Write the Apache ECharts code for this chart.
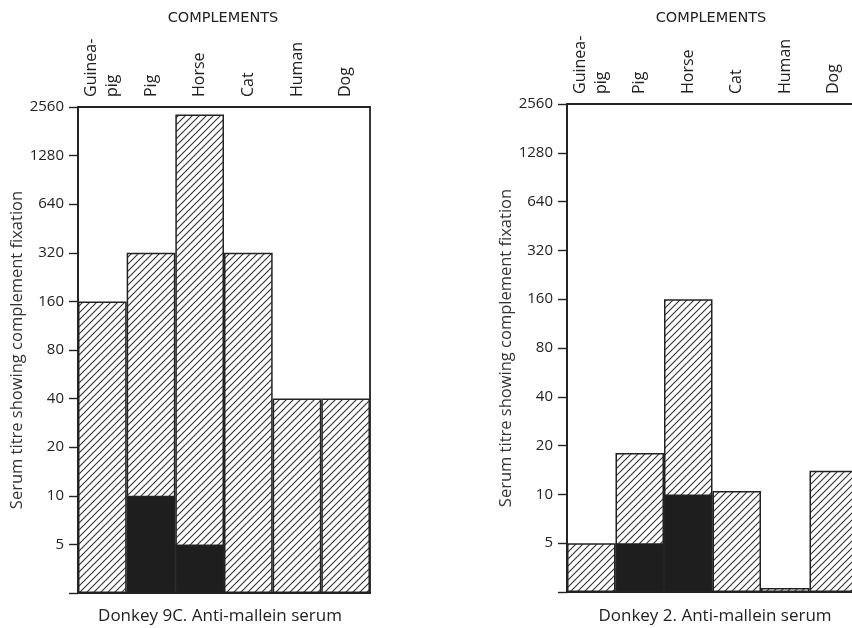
<!DOCTYPE html>
<html>
<head>
<meta charset="utf-8">
<script src="https://cdn.jsdelivr.net/npm/echarts@6/dist/echarts.min.js"></script>
<style>
  html, body { margin: 0; padding: 0; background: #fff; }
  #chart { width: 852px; height: 628px; }
</style>
</head>
<body>
<div id="chart"></div>
<script>
// complement source animals (top axis)
const categories = ['Guinea-\npig', 'Pig', 'Horse', 'Cat', 'Human', 'Dog'];
// titre ticks, each a doubling; axis floor sits one doubling below 5
const titreTicks = [5, 10, 20, 40, 80, 160, 320, 640, 1280, 2560];
const axisFloor = 2.5;

// Donkey 9C: hatched total titre, solid part drawn over the bottom
const donkey9cTotal = [160, 320, 2300, 320, 40, 40];
const donkey9cSolid = [null, 10, 5, null, null, null];

// Donkey 2
const donkey2Total = [5, 18, 160, 10.5, 2.65, 14];
const donkey2Solid = [null, 5, 10, null, null, null];

const ink = '#222';
const font = '"Open Sans", Lato, sans-serif';

// diagonal hatch tile
function makeHatch() {
  const size = 7;
  const c = document.createElement('canvas');
  c.width = size;
  c.height = size;
  const ctx = c.getContext('2d');
  ctx.fillStyle = '#fff';
  ctx.fillRect(0, 0, size, size);
  ctx.strokeStyle = '#333';
  ctx.lineWidth = 1.1;
  ctx.beginPath();
  ctx.moveTo(-1, size + 1); ctx.lineTo(size + 1, -1);
  ctx.moveTo(-1, 1); ctx.lineTo(1, -1);
  ctx.moveTo(size - 1, size + 1); ctx.lineTo(size + 1, size - 1);
  ctx.stroke();
  return c;
}
const hatch = { image: makeHatch(), repeat: 'repeat' };

// doublings above the floor, so the value axis works as a log2 scale
const toLog = (v) => (v == null ? '-' : Math.log2(v / axisFloor));

const grids = [
  { left: 78, top: 107, width: 292, height: 486 },
  { left: 567, top: 104, width: 291, height: 488 },
];

function xAxisFor(i) {
  return {
    type: 'category',
    gridIndex: i,
    position: 'top',
    data: categories,
    boundaryGap: true,
    axisLine: { lineStyle: { color: ink, width: 1.8 } },
    axisTick: { inside: true, length: 7, interval: 0, lineStyle: { color: ink, width: 1.4 } },
    axisLabel: {
      rotate: 90, interval: 0, margin: 10,
      color: ink, fontFamily: font, fontSize: 16, lineHeight: 21,
    },
  };
}

function yAxisFor(i) {
  return {
    type: 'value',
    gridIndex: i,
    min: 0,
    max: titreTicks.length,
    interval: 1,
    name: 'Serum titre showing complement fixation',
    nameLocation: 'middle',
    nameGap: 49,
    nameTextStyle: { color: '#333', fontFamily: font, fontSize: 16.5 },
    axisLine: { show: true, lineStyle: { color: ink, width: 1.8 } },
    axisTick: { show: true, length: 9, lineStyle: { color: ink, width: 1.4 } },
    splitLine: { show: false },
    axisLabel: {
      color: ink, fontFamily: font, fontSize: 15, margin: 14,
      formatter: (v) => (v >= 1 ? String(titreTicks[v - 1]) : ''),
    },
  };
}

function seriesFor(i, total, solid) {
  return [
    {
      type: 'bar',
      xAxisIndex: i,
      yAxisIndex: i,
      barCategoryGap: '0%',
      barGap: '-100%',
      data: total.map(toLog),
      itemStyle: { color: hatch, borderColor: ink, borderWidth: 1.5 },
      silent: true,
    },
    {
      type: 'bar',
      xAxisIndex: i,
      yAxisIndex: i,
      barCategoryGap: '0%',
      barGap: '-100%',
      data: solid.map(toLog),
      itemStyle: { color: '#1e1e1e', borderColor: ink, borderWidth: 1.5 },
      silent: true,
    },
  ];
}

const titleStyle = { color: ink, fontFamily: '"DejaVu Sans", sans-serif', fontSize: 14.5, fontWeight: 'normal' };
const captionStyle = { color: ink, fontFamily: font, fontSize: 17, fontWeight: 'normal' };

const chart = echarts.init(document.getElementById('chart'), null, { renderer: 'canvas' });
chart.setOption({
  backgroundColor: '#fff',
  animation: false,
  title: [
    { text: 'COMPLEMENTS', left: 218, top: 6, textAlign: 'center', textStyle: titleStyle },
    { text: 'COMPLEMENTS', left: 706, top: 6, textAlign: 'center', textStyle: titleStyle },
    { text: 'Donkey 9C. Anti-mallein serum', left: 215, top: 603, textAlign: 'center', textStyle: captionStyle },
    { text: 'Donkey 2. Anti-mallein serum', left: 710, top: 603, textAlign: 'center', textStyle: captionStyle },
  ],
  grid: grids.map((g) => ({
    ...g,
    show: true,
    borderColor: ink,
    borderWidth: 1.8,
    backgroundColor: 'transparent',
    containLabel: false,
    outerBoundsMode: 'none',
  })),
  xAxis: [xAxisFor(0), xAxisFor(1)],
  yAxis: [yAxisFor(0), yAxisFor(1)],
  series: [
    ...seriesFor(0, donkey9cTotal, donkey9cSolid),
    ...seriesFor(1, donkey2Total, donkey2Solid),
  ],
});
</script>
</body>
</html>
